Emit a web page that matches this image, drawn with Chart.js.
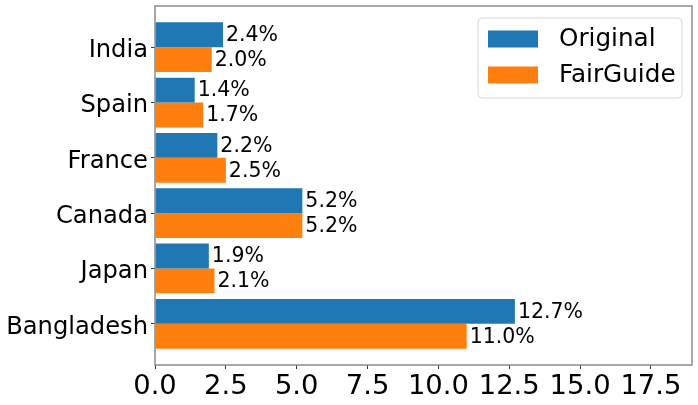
<!DOCTYPE html>
<html>
<head>
<meta charset="utf-8">
<script src="https://cdn.jsdelivr.net/npm/chart.js@4.4.0/dist/chart.umd.min.js"></script>
<style>
  html, body { margin: 0; padding: 0; background: #fff; }
  #wrap { width: 698px; height: 405px; }
</style>
</head>
<body>
<div id="wrap"><canvas id="chart"></canvas></div>
<script>
const categories = ['India', 'Spain', 'France', 'Canada', 'Japan', 'Bangladesh'];
const originalValues = [2.4, 1.4, 2.2, 5.2, 1.9, 12.7];
const fairGuideValues = [2.0, 1.7, 2.5, 5.2, 2.1, 11.0];
const seriesNames = ['Original', 'FairGuide'];
const xTickStep = 2.5;

const FONT = 'DejaVu Sans';
const blue = '#1f77b4';
const orange = '#ff7f0e';

function toPoints(values) {
    return values.map((v, i) => ({ x: v, y: i }));
}

// frame around the plot, like matplotlib spines
const framePlugin = {
    id: 'frame',
    afterDatasetsDraw(chart) {
        const a = chart.chartArea;
        const ctx = chart.ctx;
        ctx.save();
        ctx.strokeStyle = '#8c8c8c';
        ctx.lineWidth = 1.5;
        ctx.strokeRect(a.left, a.top, a.right - a.left, a.bottom - a.top);
        ctx.restore();
    }
};

// value labels at the end of each bar
const valueLabels = {
    id: 'valueLabels',
    afterDatasetsDraw(chart) {
        const ctx = chart.ctx;
        ctx.save();
        ctx.font = '20.5px "' + FONT + '"';
        ctx.fillStyle = '#000';
        ctx.textAlign = 'left';
        ctx.textBaseline = 'middle';
        chart.data.datasets.forEach((ds, di) => {
            chart.getDatasetMeta(di).data.forEach((bar, i) => {
                ctx.fillText(ds.data[i].x.toFixed(1) + '%', bar.x + 3, bar.y + 1);
            });
        });
        ctx.restore();
    }
};

// legend box in the upper right corner of the plot
const boxLegend = {
    id: 'boxLegend',
    afterDraw(chart) {
        const ctx = chart.ctx;
        const a = chart.chartArea;
        const w = 204, h = 80;
        const x = a.right - 10 - w, y = a.top + 12;
        ctx.save();
        ctx.beginPath();
        ctx.roundRect(x, y, w, h, 4);
        ctx.fillStyle = 'rgba(255,255,255,0.8)';
        ctx.fill();
        ctx.strokeStyle = '#d6d6d6';
        ctx.lineWidth = 1;
        ctx.stroke();
        ctx.font = '24.7px "' + FONT + '"';
        ctx.textBaseline = 'middle';
        ctx.textAlign = 'left';
        chart.data.datasets.forEach((ds, i) => {
            const cy = y + 21 + i * 36;
            ctx.fillStyle = ds.backgroundColor;
            ctx.fillRect(x + 10, cy - 8.5, 50, 17);
            ctx.fillStyle = '#000';
            ctx.fillText(ds.label, x + 81, cy + 1);
        });
        ctx.restore();
    }
};

new Chart(document.getElementById('chart'), {
    type: 'bar',
    data: {
        datasets: [
            { label: seriesNames[0], data: toPoints(originalValues), backgroundColor: blue },
            { label: seriesNames[1], data: toPoints(fairGuideValues), backgroundColor: orange }
        ]
    },
    options: {
        indexAxis: 'y',
        responsive: true,
        maintainAspectRatio: false,
        animation: false,
        categoryPercentage: 0.9,
        barPercentage: 1.0,
        layout: { padding: { top: 6, right: 6, left: 0, bottom: 0 } },
        plugins: {
            legend: { display: false },
            tooltip: { enabled: false }
        },
        scales: {
            y: {
                type: 'linear',
                reverse: true,
                offset: false,
                min: -0.745,
                max: categories.length - 1 + 0.745,
                afterBuildTicks: s => { s.ticks = categories.map((c, i) => ({ value: i })); },
                afterFit: s => { s.width = 155; s.paddingTop = 0; s.paddingBottom = 0; },
                grid: { offset: false, drawOnChartArea: false, drawTicks: true, tickLength: 4, color: '#333' },
                border: { display: false },
                ticks: {
                    autoSkip: false,
                    padding: 3,
                    labelOffset: 3.5,
                    color: '#000',
                    font: { family: FONT, size: 24.2 },
                    callback: v => categories[v]
                }
            },
            x: {
                type: 'linear',
                min: 0,
                max: 18.95,
                afterFit: s => { s.height = 40; s.paddingLeft = 0; s.paddingRight = 0; },
                grid: { drawOnChartArea: false, drawTicks: true, tickLength: 4, color: '#333' },
                border: { display: false },
                ticks: {
                    stepSize: xTickStep,
                    includeBounds: false,
                    maxRotation: 0,
                    padding: 1,
                    color: '#000',
                    font: { family: FONT, size: 27.4 },
                    callback: v => v.toFixed(1)
                }
            }
        }
    },
    plugins: [framePlugin, valueLabels, boxLegend]
});
</script>
</body>
</html>
